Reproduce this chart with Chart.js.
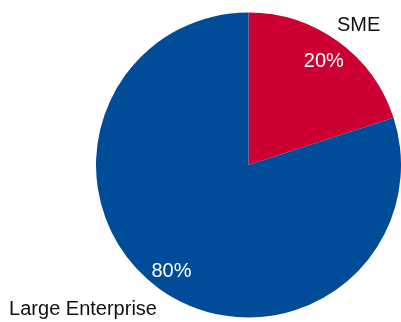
<!DOCTYPE html>
<html>
<head>
<meta charset="utf-8">
<script src="https://cdn.jsdelivr.net/npm/chart.js@4"></script>
<style>
  html, body { margin: 0; padding: 0; background: #ffffff; }
  #wrap { width: 401px; height: 322px; position: relative; }
</style>
</head>
<body>
<div id="wrap"><canvas id="c" width="401" height="322"></canvas></div>
<script>
// Company size split
const categories = ['SME', 'Large Enterprise'];
const shares = [20, 80];
const sliceColors = ['#CC0033', '#004C99'];

const FONT = '"Liberation Sans", Arial, Helvetica, sans-serif';

// Draws the percentage inside each slice and the category name outside it
const sliceLabels = {
  id: 'sliceLabels',
  afterDatasetsDraw(chart) {
    const ctx = chart.ctx;
    const meta = chart.getDatasetMeta(0);
    const total = shares.reduce((a, b) => a + b, 0);
    // radial factor for the value, and for the outside name with its angular offset (rad)
    const inner = [0.84, 0.86];
    const outside = [
      { f: 1.165, da: 0.04 },
      { f: 1.44, da: 0.225 }
    ];
    meta.data.forEach((arc, i) => {
      const p = arc.getProps(['x', 'y', 'startAngle', 'endAngle', 'outerRadius'], true);
      const mid = (p.startAngle + p.endAngle) / 2;
      const r = p.outerRadius;
      ctx.save();
      ctx.font = '20px ' + FONT;
      ctx.textAlign = 'center';
      ctx.textBaseline = 'middle';
      // value inside the slice
      const pct = Math.round(shares[i] / total * 100) + '%';
      ctx.fillStyle = '#ffffff';
      ctx.fillText(pct, p.x + Math.cos(mid) * r * inner[i], p.y + Math.sin(mid) * r * inner[i]);
      // category name outside the slice
      const a = mid + outside[i].da;
      ctx.fillStyle = '#111111';
      ctx.fillText(categories[i], p.x + Math.cos(a) * r * outside[i].f, p.y + Math.sin(a) * r * outside[i].f);
      ctx.restore();
    });
  }
};

new Chart(document.getElementById('c'), {
  type: 'pie',
  data: {
    labels: categories,
    datasets: [{
      data: shares,
      backgroundColor: sliceColors,
      borderWidth: 0
    }]
  },
  options: {
    responsive: false,
    animation: false,
    layout: { padding: { left: 96, top: 12, right: 0, bottom: 4 } },
    plugins: {
      legend: { display: false },
      tooltip: { enabled: false }
    }
  },
  plugins: [sliceLabels]
});
</script>
</body>
</html>
